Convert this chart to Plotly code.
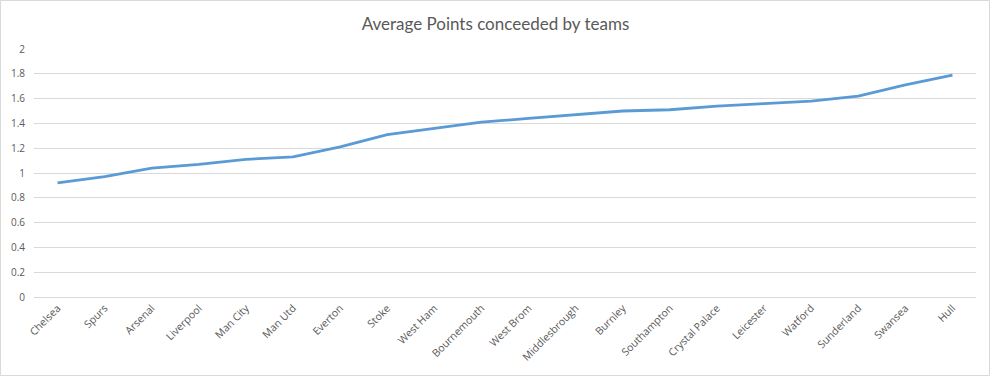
import plotly.graph_objects as go

teams = ["Chelsea", "Spurs", "Arsenal", "Liverpool", "Man City", "Man Utd", "Everton",
         "Stoke", "West Ham", "Bournemouth", "West Brom", "Middlesbrough", "Burnley",
         "Southampton", "Crystal Palace", "Leicester", "Watford", "Sunderland", "Swansea", "Hull"]
avg_conceded = [0.92, 0.97, 1.04, 1.07, 1.11, 1.13, 1.21, 1.31, 1.36, 1.41, 1.44, 1.47,
                1.50, 1.51, 1.54, 1.56, 1.58, 1.62, 1.71, 1.79]
y_ticks = [0, 0.2, 0.4, 0.6, 0.8, 1, 1.2, 1.4, 1.6, 1.8, 2]
y_tick_text = ["0", "0.2", "0.4", "0.6", "0.8", "1", "1.2", "1.4", "1.6", "1.8", "2"]

W, H = 991, 377
ml, mr, mt, mb = 34, 15, 49, 80
pw, ph = W - ml - mr, H - mt - mb

fig = go.Figure()
fig.add_trace(go.Scatter(
    x=teams, y=avg_conceded, mode="lines",
    line=dict(color="#5b9bd5", width=2.8),
    hoverinfo="x+y", showlegend=False,
))

fig.update_layout(
    width=W, height=H,
    margin=dict(l=ml, r=mr, t=mt, b=mb, autoexpand=False),
    paper_bgcolor="white", plot_bgcolor="white",
    font=dict(family="Open Sans, sans-serif", color="#595959", size=10),
    title=dict(text="Average Points conceeded by teams", x=0.5, xanchor="center",
               xref="container", y=1 - 24 / H, yanchor="middle", automargin=False,
               font=dict(size=17, color="#595959", family="Lato, sans-serif")),
    xaxis=dict(type="category", tickangle=-45, showgrid=False, showline=True,
               linecolor="#d9d9d9", linewidth=1, ticks="", range=[-0.5, 19.5],
               automargin=False,
               tickfont=dict(size=10.5, color="#595959"), zeroline=False, fixedrange=True),
    yaxis=dict(range=[0, 2], tickvals=y_ticks, ticktext=y_tick_text, showgrid=True,
               gridcolor="#d9d9d9", gridwidth=1, zeroline=False, showline=False,
               ticks="", ticklabelstandoff=8, automargin=False,
               tickfont=dict(size=10, color="#595959"), fixedrange=True),
    shapes=[dict(type="rect", xref="paper", yref="paper",
                 x0=(0.5 - ml) / pw, x1=(W - 1.5 - ml) / pw,
                 y0=-(mb - 1.5) / ph,
                 y1=(ph + mt - 0.5) / ph,
                 line=dict(color="#d9d9d9", width=1), layer="below")],
)

fig.write_html(
    "out.html",
    config={"displayModeBar": False},
    post_script="document.body.style.margin='0';document.body.style.overflow='hidden';",
)
